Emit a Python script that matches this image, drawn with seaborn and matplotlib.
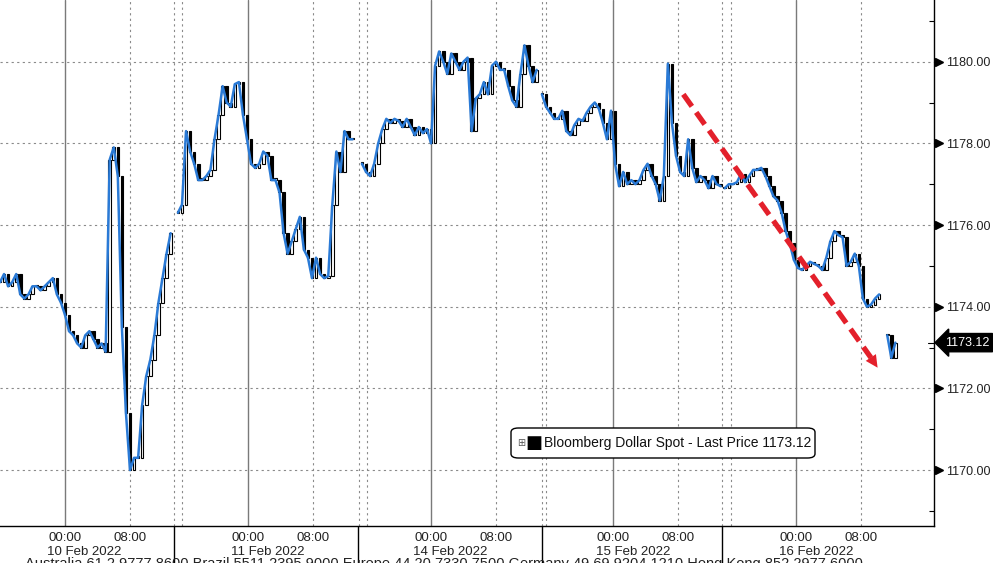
import numpy as np
import pandas as pd
import matplotlib
matplotlib.use("Agg")
import matplotlib.pyplot as plt
import matplotlib.transforms as mtransforms
from matplotlib.patches import FancyBboxPatch
import seaborn as sns

# --- data (closes every 30 min) ---
session_labels = ["10 Feb 2022", "11 Feb 2022", "14 Feb 2022", "15 Feb 2022", "16 Feb 2022"]
# session opens at 16:00 on a compressed hour axis (trading gaps removed)
session_open = [0.0, 22.5, 45.0, 67.5, 90.0]
# where the first 30-min bar of each session sits on that axis
session_first_bar = [0.0, 21.9, 44.55, 66.7, 89.2]

closes_10feb = [1174.6, 1174.8, 1174.5, 1174.6, 1174.8, 1174.3, 1174.2, 1174.3, 1174.5, 1174.5,
                1174.4, 1174.5, 1174.6, 1174.7, 1174.3, 1174.1, 1173.8, 1173.4, 1173.3, 1173.1,
                1173.0, 1173.3, 1173.4, 1173.2, 1173.0, 1173.1, 1172.9, 1177.6, 1177.9, 1177.2,
                1173.5, 1171.4, 1170.0, 1170.3, 1170.3, 1171.6, 1172.3, 1172.7, 1173.3, 1174.1,
                1174.7, 1175.3, 1175.8]
closes_11feb = [1176.3, 1176.5, 1178.3, 1177.8, 1177.5, 1177.1, 1177.1, 1177.2, 1177.35, 1178.1,
                1178.7, 1179.4, 1179.0, 1178.9, 1179.45, 1179.5, 1178.7, 1178.1, 1177.5, 1177.4,
                1177.5, 1177.8, 1177.7, 1177.1, 1177.1, 1176.8, 1175.8, 1175.3, 1175.6, 1175.9,
                1176.2, 1175.4, 1175.2, 1174.7, 1175.2, 1174.8, 1174.7, 1174.75, 1176.5, 1177.8,
                1177.3, 1178.3, 1178.1, 1178.1]
closes_14feb = [1177.5, 1177.3, 1177.2, 1177.5, 1178.0, 1178.35, 1178.6, 1178.5, 1178.6, 1178.55,
                1178.4, 1178.6, 1178.4, 1178.2, 1178.4, 1178.25, 1178.35, 1178.0, 1179.9, 1180.25,
                1180.0, 1179.7, 1180.2, 1180.0, 1179.8, 1180.0, 1180.1, 1178.3, 1179.1, 1179.2,
                1179.5, 1179.2, 1179.9, 1180.0, 1179.8, 1179.8, 1179.4, 1179.05, 1178.9, 1179.7,
                1180.4, 1179.9, 1179.5, 1179.8]
closes_15feb = [1179.2, 1178.9, 1178.75, 1178.6, 1178.6, 1178.8, 1178.3, 1178.2, 1178.45, 1178.6,
                1178.55, 1178.75, 1178.9, 1179.0, 1178.85, 1178.5, 1178.1, 1178.8, 1177.5, 1176.95,
                1177.3, 1177.0, 1177.1, 1177.0, 1177.1, 1177.35, 1177.5, 1177.2, 1177.0, 1176.6,
                1177.2, 1179.95, 1178.5, 1177.7, 1177.3, 1177.2, 1178.1, 1177.4, 1177.05, 1177.2,
                1177.1, 1176.9, 1177.2, 1177.0, 1176.95]
closes_16feb = [1176.9, 1177.0, 1177.0, 1177.05, 1177.25, 1177.05, 1177.2, 1177.35, 1177.35, 1177.4,
                1177.2, 1176.95, 1176.7, 1176.6, 1176.3, 1175.85, 1175.55, 1175.15, 1174.95, 1174.9,
                1175.0, 1175.1, 1175.05, 1175.0, 1174.9, 1175.2, 1175.6, 1175.85, 1175.75, 1175.7,
                1175.0, 1175.1, 1175.3, 1175.0, 1174.2, 1174.0, 1174.05, 1174.2, 1174.3, np.nan,
                1173.3, 1172.75, 1173.12]
last_price = 1173.12

y_ticks = [1170, 1172, 1174, 1176, 1178, 1180]
trend_start = (84.1, 1179.2)   # red dashed arrow
trend_end = (108.2, 1172.45)

# --- build frame ---
all_sessions = [closes_10feb, closes_11feb, closes_14feb, closes_15feb, closes_16feb]
rows = []
seg = 0
for k, closes in enumerate(all_sessions):
    seg += 1
    for i, c in enumerate(closes):
        if np.isnan(c):
            seg += 1
            continue
        rows.append({"x": session_first_bar[k] + 0.5 * i, "close": c, "seg": seg})
df = pd.DataFrame(rows)
df["open"] = df.groupby("seg")["close"].shift(1).fillna(df["close"])

sns.set_style("white")
plt.rcParams["font.family"] = ["Liberation Sans", "DejaVu Sans"]

fig = plt.figure(figsize=(9.93, 5.63), dpi=100)
ax = fig.add_axes([0, 37 / 563, 934 / 993, 526 / 563])
ax.set_xlim(0, 934 / 8.125)
ax.set_ylim(1168.63, 1181.51)

xtrans = mtransforms.blended_transform_factory(ax.transData, ax.transAxes)
ytrans = mtransforms.blended_transform_factory(ax.transAxes, ax.transData)

# grid
for y in y_ticks:
    ax.axhline(y, color="#8a8a8a", lw=0.8, ls=(0, (2, 3)), zorder=0)
midnights = [o + 8 for o in session_open]
eights = [o + 16 for o in session_open]
for x in midnights:
    ax.axvline(x, color="#7a7a7a", lw=1, zorder=0)
for x in eights:
    ax.axvline(x, color="#8a8a8a", lw=0.8, ls=(0, (2, 3)), zorder=0)
for x in [21.4, 22.4, 44.2, 45.2, 66.7, 67.2, 88.9, 90.0]:
    ax.axvline(x, color="#8a8a8a", lw=0.8, ls=(0, (2, 3)), zorder=0)

# candles (open = previous close)
body_lo = df[["open", "close"]].min(axis=1)
body_h = (df["close"] - df["open"]).abs().clip(lower=0.04)
up = df["close"] >= df["open"]
ax.bar(df.loc[up, "x"], body_h[up], bottom=body_lo[up], width=0.32,
       color="white", edgecolor="black", lw=0.8, zorder=2)
ax.bar(df.loc[~up, "x"], body_h[~up], bottom=body_lo[~up], width=0.32,
       color="black", edgecolor="black", lw=0.8, zorder=2)

sns.lineplot(data=df, x="x", y="close", units="seg", estimator=None,
             color="#2a7ad6", lw=1.8, ax=ax, zorder=3)

# red trend arrow
ax.plot([trend_start[0], trend_end[0] - 1.0], [trend_start[1], trend_end[1] + 0.3],
        color="#e3202b", lw=3.8, ls=(0, (2.8, 1.4)), zorder=4, solid_capstyle="butt")
ax.annotate("", xy=trend_end, xytext=(trend_end[0] - 1.6, trend_end[1] + 0.48),
            arrowprops=dict(arrowstyle="-|>", color="#e3202b", lw=0, mutation_scale=22),
            zorder=4)

# axes styling
for s in ["left", "top"]:
    ax.spines[s].set_visible(False)
for s in ["right", "bottom"]:
    ax.spines[s].set_color("black")
    ax.spines[s].set_linewidth(1)

ax.yaxis.tick_right()
ax.set_yticks(y_ticks)
ax.set_yticklabels([f"{v:.2f}" for v in y_ticks])
ax.set_yticks([1169, 1171, 1173, 1175, 1177, 1179, 1181], minor=True)
ax.tick_params(axis="y", which="major", length=0, pad=8.5, labelsize=9, labelcolor="#222222")
ax.tick_params(axis="y", which="minor", direction="in", length=3.5, width=0.8, color="black")
ax.plot([1.0] * len(y_ticks), y_ticks, ls="none", marker=">", ms=5.5, color="black",
        transform=ytrans + mtransforms.ScaledTranslation(3.5 / 72, 0, fig.dpi_scale_trans),
        clip_on=False)

ax.set_xticks(sorted(midnights + eights))
ax.set_xticklabels(["00:00", "08:00"] * len(session_open))
minor_x = [o + h for o in session_open for h in (4, 12, 20)]
ax.set_xticks(minor_x, minor=True)
ax.tick_params(axis="x", which="major", length=3, pad=1.5, labelsize=9.5, labelcolor="#222222")
ax.tick_params(axis="x", which="minor", length=3, color="black")
ax.set_xlabel("")
ax.set_ylabel("")

for m, lab in zip(midnights, session_labels):
    ax.text(m + 2.4, -0.05, lab, transform=xtrans, ha="center", va="center",
            fontsize=9.5, color="#222222")
ax.vlines([21.4, 44.1, 66.7, 88.9], -0.08, 0, transform=xtrans, color="black",
          lw=1, clip_on=False)

# last price tag
ax.annotate(f"{last_price:.2f}", xy=(1.0, last_price), xycoords=ytrans,
            xytext=(11, 0), textcoords="offset pixels", va="center", ha="left",
            fontsize=9, color="white",
            bbox=dict(boxstyle="larrow,pad=0.25", fc="black", ec="black"),
            annotation_clip=False)
ax.plot([0.994, 1.0], [last_price, last_price], color="black", lw=0.8,
        transform=ytrans, clip_on=False)

# legend box
box = FancyBboxPatch((511 / 934, (526 - 458) / 526), 304 / 934, 30 / 526,
                     boxstyle="round,pad=0,rounding_size=0.008", transform=ax.transAxes,
                     fc="white", ec="black", lw=1, zorder=5)
ax.add_patch(box)
ax.text(521 / 934, (526 - 443) / 526, "\u229e", transform=ax.transAxes, ha="center",
        va="center", fontsize=7, color="#555555", family=["DejaVu Sans"], zorder=6)
ax.text(534 / 934, (526 - 443) / 526, "\u25a0", transform=ax.transAxes, ha="center",
        va="center", fontsize=13, color="black", family=["DejaVu Sans"], zorder=6)
ax.text(544 / 934, (526 - 443) / 526, f"Bloomberg Dollar Spot - Last Price {last_price:.2f}",
        transform=ax.transAxes, ha="left", va="center", fontsize=10, color="#111111", zorder=6)

# footer, cut by the bottom edge like the screenshot
fig.text(25 / 993, -5 / 563, "Australia 61 2 9777 8600 Brazil 5511 2395 9000 Europe 44 20 7330 7500 "
         "Germany 49 69 9204 1210 Hong Kong 852 2977 6000", ha="left", va="baseline",
         fontsize=10.5, color="#222222")

fig.savefig("out.png", dpi=100, facecolor="white")
